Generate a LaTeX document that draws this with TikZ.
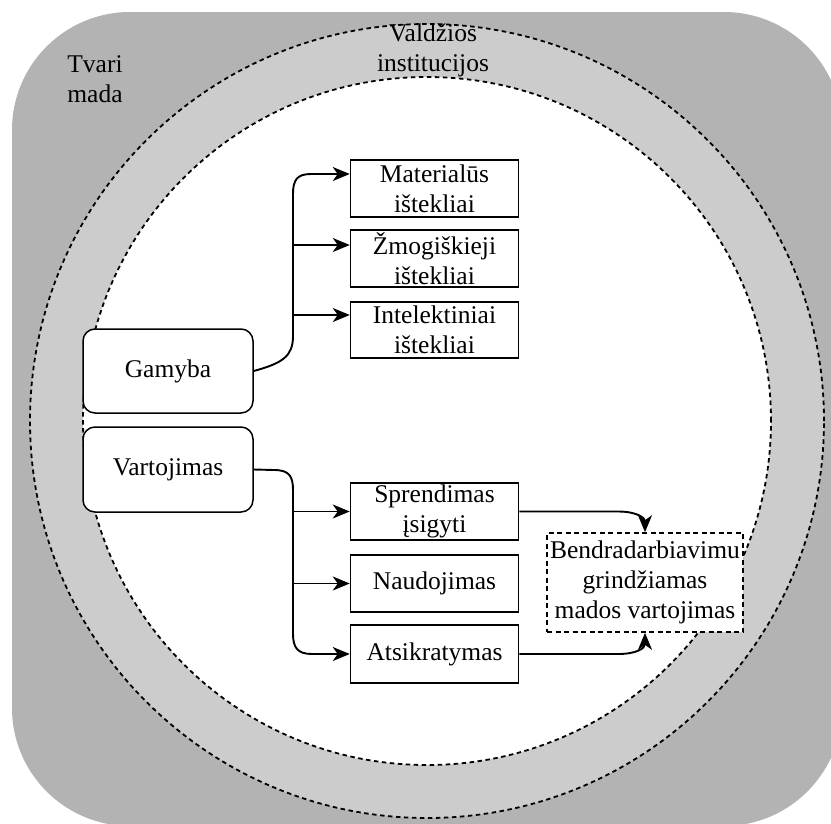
\documentclass[tikz,border=0pt]{standalone}
\usepackage{fontspec}
\setmainfont{Liberation Serif}
\usetikzlibrary{arrows.meta}
\definecolor{outergray}{HTML}{B3B3B3}
\definecolor{ringgray}{HTML}{CCCCCC}
\tikzset{
  lbl/.style={font=\fontsize{25.5}{30}\selectfont, align=center, inner sep=0pt},
  stepbox/.style={lbl, draw=black, line width=1.5pt, fill=white,
    minimum width=168pt, minimum height=57pt},
  phasebox/.style={lbl, draw=black, line width=1.5pt, fill=white,
    rounded corners=12pt, minimum width=170pt, minimum height=84pt},
  resultbox/.style={lbl, draw=black, dash pattern=on 5pt off 3.5pt,
    line width=1.6pt, fill=white, minimum width=196pt, minimum height=99pt},
  ringline/.style={draw=black, line width=1.8pt, dash pattern=on 4.5pt off 3.5pt},
  conn/.style={draw=black, line width=1.9pt,
    -{Stealth[length=17pt, width=14pt, inset=5pt]}},
}
\begin{document}
\begin{tikzpicture}[x=1pt, y=-1pt]
  \useasboundingbox (0,0) rectangle (831,823);
  \fill[white] (0,0) rectangle (831,823);
  \begin{scope}
    \clip (0,0) rectangle (831,823);
    % outer frame: sustainable fashion
    \fill[outergray, rounded corners=118pt] (12,12) rectangle (842,826);
    % ring of government institutions
    \fill[ringgray] (427,421) circle (397pt);
    \fill[white] (427,421) circle (344pt);
    \draw[ringline] (427,421) circle (397pt);
    \draw[ringline] (427,421) circle (344pt);
  \end{scope}

  % layer labels
  \node[lbl] (tvari) at (95,79) {Tvari\\mada};
  \node[lbl] (valdzia) at (433,50) {Valdžios\\institucijos};

  % production and consumption
  \node[phasebox] (gam) at (168,371) {Gamyba};
  \node[phasebox, minimum height=85pt] (var) at (168,469.5) {Vartojimas};

  % resources
  \node[stepbox] (mat) at (434.5,188.5) {Materialūs\\ištekliai};
  \node[stepbox] (zmo) at (434.5,258.5) {Žmogiškieji\\ištekliai};
  \node[stepbox, minimum height=56pt] (intel) at (434.5,330) {Intelektiniai\\ištekliai};

  % consumption stages
  \node[stepbox] (spr) at (434.5,511.5) {Sprendimas\\įsigyti};
  \node[stepbox] (nau) at (434.5,583.5) {Naudojimas};
  \node[stepbox, minimum height=58pt] (ats) at (434.5,654) {Atsikratymas};

  % collaborative consumption
  \node[resultbox] (col) at (645,582.5) {Bendradarbiavimu\\grindžiamas\\mados vartojimas};

  % branch points on the trunks
  \coordinate (yM) at (293,174);
  \coordinate (yZ) at (293,245);
  \coordinate (yI) at (293,315);
  \coordinate (yN) at (293,583.5);
  \coordinate (yS) at (293,511.5);

  % production trunk
  \draw[conn] (gam.east) .. controls (283,363) and (293,356) .. (293,336)
    -- (293,194) .. controls (293,180) and (297,174) .. (311,174) -- (yM -| mat.west);
  \draw[conn] (yZ) -- (yZ -| zmo.west);
  \draw[conn] (yI) -- (yI -| intel.west);

  % consumption trunk
  \draw[conn] (var.east) -- (274,470) .. controls (289,470) and (293,476) .. (293,490)
    -- (293,634) .. controls (293,648) and (298,654) .. (312,654) -- (ats.west);
  \draw[conn] (yS) -- (spr.west);
  \draw[conn] (yN) -- (nau.west);

  % links to collaborative consumption
  \draw[conn] (spr.east) -- (618,511.5) .. controls (637,511.5) and (645,518) .. (col.north);
  \draw[conn] (ats.east) -- (618,654) .. controls (637,654) and (645,648) .. (col.south);
\end{tikzpicture}
\end{document}
